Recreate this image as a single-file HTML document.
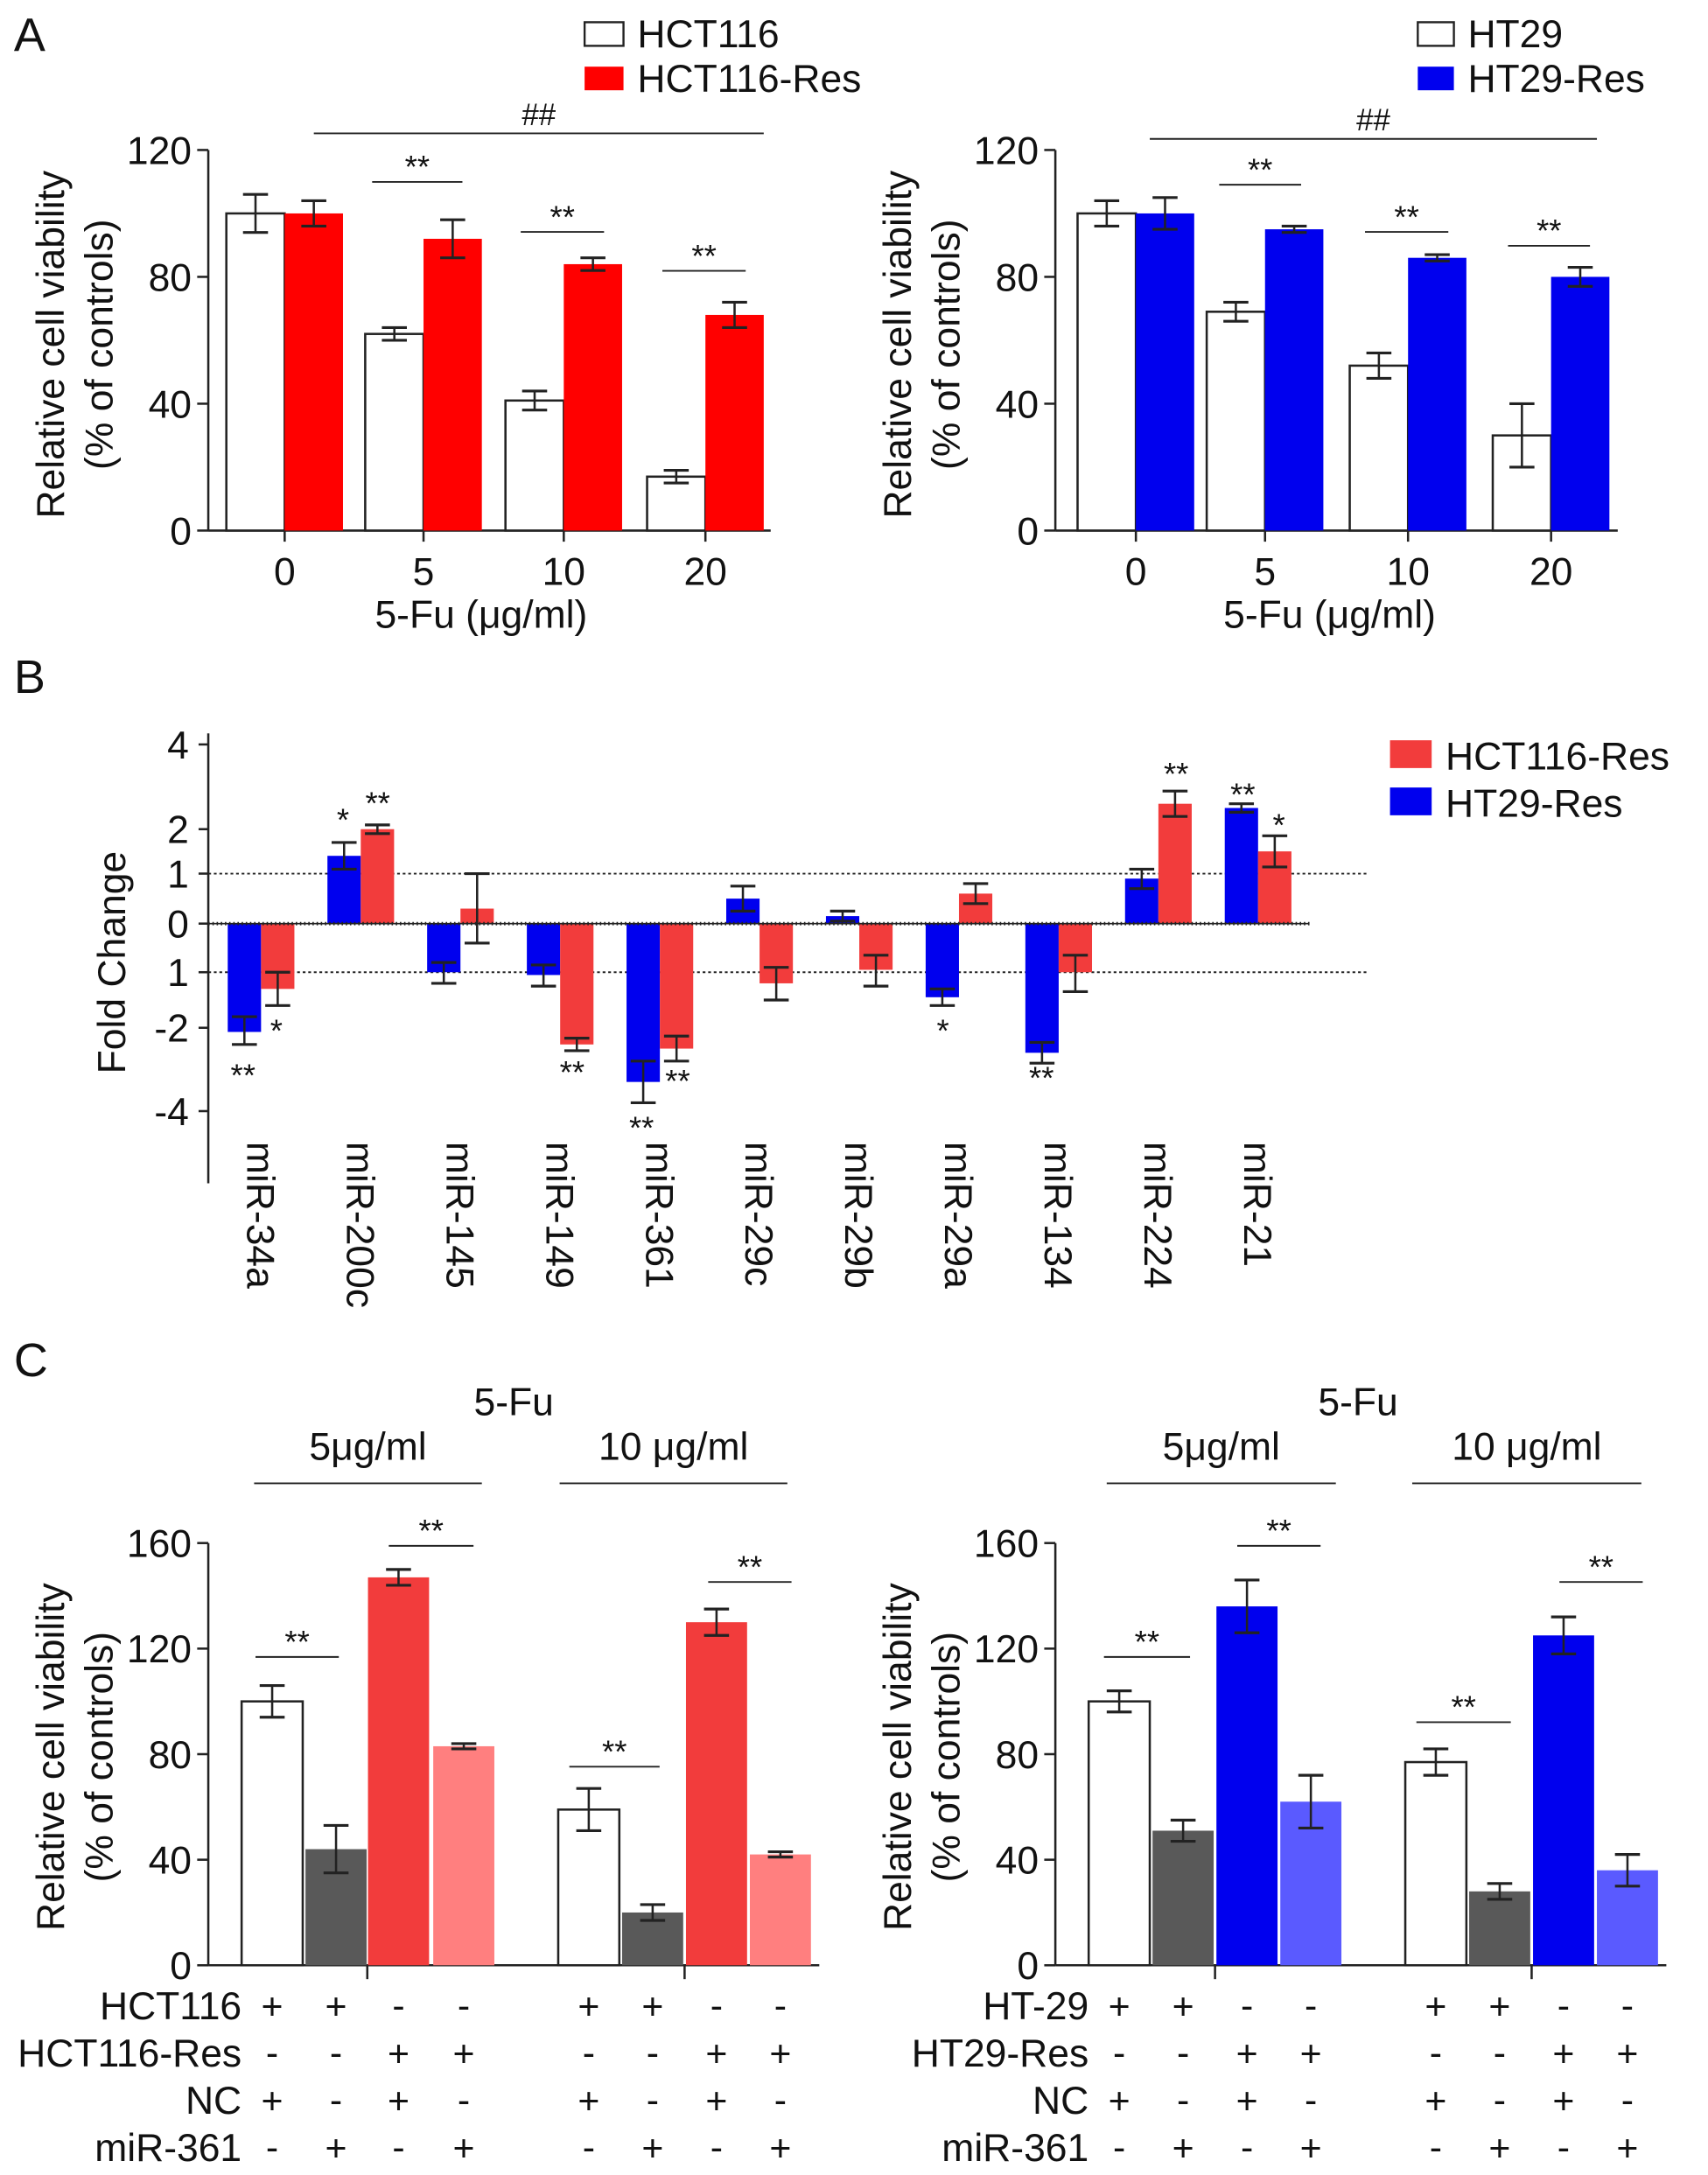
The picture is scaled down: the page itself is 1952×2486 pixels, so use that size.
<!DOCTYPE html>
<html><head><meta charset="utf-8"><style>
html,body{margin:0;padding:0;background:#fff}
svg{display:block}
text{font-family:"Liberation Sans",sans-serif;fill:#111}
</style></head><body>
<svg id="fig" xmlns="http://www.w3.org/2000/svg" width="1952" height="2486" viewBox="0 0 1230 1566" preserveAspectRatio="none">
<g id="root"></g>
</svg>
<script>
// ---------- Panel A data ----------
const aDoses = ['0','5','10','20'];
const aHctVals = [100, 62, 41, 17];
const aHctErr = [6, 2, 3, 2];
const aHctResVals = [100, 92, 84, 68];
const aHctResErr = [4, 6, 2, 4];
const aHtVals = [100, 69, 52, 30];
const aHtErr = [4, 3, 4, 10];
const aHtResVals = [100, 95, 86, 80];
const aHtResErr = [5, 1, 1, 3];
const aTicks = [0, 40, 80, 120];
// ---------- Panel B data ----------
const bCats = ['miR-34a','miR-200c','miR-145','miR-149','miR-361','miR-29c','miR-29b','miR-29a','miR-134','miR-224','miR-21'];
const bHtRes = [-2.1, 1.4, -1.0, -1.05, -3.3, 0.5, 0.15, -1.45, -2.6, 0.9, 2.5];
const bHtResErr = [0.3, 0.3, 0.2, 0.2, 0.5, 0.25, 0.1, 0.15, 0.25, 0.2, 0.1];
const bHctRes = [-1.3, 2.0, 0.3, -2.4, -2.5, -1.2, -0.95, 0.6, -1.0, 2.6, 1.5];
const bHctResErr = [0.3, 0.1, 0.7, 0.15, 0.3, 0.3, 0.3, 0.2, 0.35, 0.3, 0.35];
const bTickVals = [-4, -2, -1, 0, 1, 2, 4];
const bTickLabels = ['-4','-2','1','0','1','2','4'];
// ---------- Panel C data ----------
const cHctVals = [100, 44, 147, 83, 59, 20, 130, 42];
const cHctErr = [6, 9, 3, 1, 8, 3, 5, 1];
const cHtVals = [100, 51, 136, 62, 77, 28, 125, 36];
const cHtErr = [4, 4, 10, 10, 5, 3, 7, 6];
const cTicks = [0, 40, 80, 120, 160];
const cRowsHct = ['HCT116','HCT116-Res','NC','miR-361'];
const cRowsHt = ['HT-29','HT29-Res','NC','miR-361'];
const cSigns = [['+','+','-','-','+','+','-','-'],['-','-','+','+','-','-','+','+'],['+','-','+','-','+','-','+','-'],['-','+','-','+','-','+','-','+']];

const NS='http://www.w3.org/2000/svg';
const root=document.getElementById('root');
function el(tag, attrs, parent, txt){
  const e=document.createElementNS(NS,tag);
  for(const k in attrs) e.setAttribute(k,attrs[k]);
  if(txt!==undefined) e.textContent=txt;
  (parent||root).appendChild(e); return e;
}
function line(x1,y1,x2,y2,parent,w,dash){
  const l=el('line',{x1,y1,x2,y2,stroke:'#222','stroke-width':w||1.5},parent);
  if(dash) l.setAttribute('stroke-dasharray',dash);
  return l;
}
function text(x,y,s,size,anchor,parent){
  return el('text',{x,y,'font-size':size,'text-anchor':anchor||'middle'},parent,s);
}
function errbar(cx,yTop,yBot,parent){
  const g=el('g',{},parent);
  
  
  line(cx,yTop,cx,yBot,g,1.6);
  line(cx-9,yTop,cx+9,yTop,g,2);
  line(cx-9,yBot,cx+9,yBot,g,2);
}
const TICK=28, TITLE=28, STAR=23;

// Panel letters
for (const [s,x,y] of [['A',10,37],['B',10,499],['C',10,991]]){
  const t=text(x,y,s,34,'start');
  
  
}

// ---------- Panel A ----------
function panelA(ox, centers, axEnd, v1, e1, v2, e2, col, sigs, hash, name){
  const g=el('g',{});
  
  
  const y0=382, yTop=108;
  const ys=v=>y0-(v/120)*(y0-yTop);
  line(ox,yTop,ox,y0,g,1.6);
  line(ox,y0,axEnd,y0,g,1.6);
  aTicks.forEach(t=>{line(ox-8,ys(t),ox,ys(t),g,1.6);
    const tl=text(ox-12,ys(t)+10,String(t),TICK,'end',g);
    
    });
  aDoses.forEach((d,i)=>{
    const c=centers[i];
    line(c,y0,c,y0+8,g,1.6);
    const tl=text(c,y0+39,d,TICK,'middle',g);
    
    
    const w=42;
    const b1=el('rect',{x:c-w,y:ys(v1[i]),width:w,height:y0-ys(v1[i]),fill:'#fff',stroke:'#222','stroke-width':1.6},g);
    
    
    const b2=el('rect',{x:c,y:ys(v2[i]),width:w,height:y0-ys(v2[i]),fill:col},g);
    
    
    errbar(c-w/2,ys(v1[i]+e1[i]),ys(v1[i]-e1[i]),g);
    errbar(c+w/2,ys(v2[i]+e2[i]),ys(v2[i]-e2[i]),g);
  });
  sigs.forEach(s=>{line(s[0],s[2],s[1],s[2],g,1.2);
    const t=text((s[0]+s[1])/2,s[2]-3,'**',STAR,'middle',g);
    
    });
  line(hash[0],hash[2],hash[1],hash[2],g,1.2);
  const h=text((hash[0]+hash[1])/2,hash[2]-6,'##',22,'middle',g);
  
  
  const yt=el('text',{transform:`translate(${ox-104},248) rotate(-90)`,'font-size':TITLE,'text-anchor':'middle'},g,'Relative cell viability');
  
  
  const yt2=el('text',{transform:`translate(${ox-69},248) rotate(-90)`,'font-size':TITLE,'text-anchor':'middle'},g,'(% of controls)');
  
  
  const xt=text((centers[0]+centers[3])/2-10,452,'5-Fu (μg/ml)',TITLE,'middle',g);
  
  
  return g;
}
panelA(150,[205,305,406,508],555,aHctVals,aHctErr,aHctResVals,aHctResErr,'#ff0000',
  [[268,333,131],[375,435,167],[477,537,195]],[226,550,96],'chart-a-hct116');
panelA(760,[818,911,1014,1117],1165,aHtVals,aHtErr,aHtResVals,aHtResErr,'#0000ee',
  [[878,937,133],[983,1043,167],[1086,1145,177]],[828,1150,100],'chart-a-ht29');

function legend(x,y,w,h,fill,stroke,label,name,size){
  const g=el('g',{});
  
  
  el('rect',{x,y,width:w,height:h,fill,stroke:stroke||'none','stroke-width':1.5},g);
  text(x+w+10,y+h+1,label,size||28,'start',g);
}
legend(421,16,28,17,'#fff','#222','HCT116','legend-hct116');
legend(421,48,28,17,'#ff0000',null,'HCT116-Res','legend-hct116-res');
legend(1021,16,26,17,'#fff','#222','HT29','legend-ht29');
legend(1021,48,26,17,'#0000ee',null,'HT29-Res','legend-ht29-res');

// ---------- Panel B ----------
(function(){
  const g=el('g',{});
  
  
  const tv=[-4,-2,-1,0,1,2,4], tp=[800,740,700,665,629,597,536];
  const ys=v=>{ if(v<=tv[0]) return tp[0]+(v-tv[0])*(tp[0]-tp[1])/(tv[1]-tv[0]);
    for(let i=0;i<tv.length-1;i++){ if(v<=tv[i+1]) return tp[i]+(v-tv[i])/(tv[i+1]-tv[i])*(tp[i+1]-tp[i]); }
    return tp[6]; };
  const x0=150;
  line(x0,528,x0,852,g,1.6);
  bTickVals.forEach((t,i)=>{line(x0-7,ys(t),x0,ys(t),g,1.6);
    const tl=text(x0-14,ys(t)+10,bTickLabels[i],TICK,'end',g);
    
    });
  line(x0,ys(1),985,ys(1),g,1.2,'2,2');
  line(x0,ys(-1),985,ys(-1),g,1.2,'2,2');
  const step=71.8, c0=188, w=24;
  bCats.forEach((c,i)=>{
    const cx=c0+i*step;
    const bb=el('rect',{x:cx-w,y:Math.min(ys(0),ys(bHtRes[i])),width:w,height:Math.abs(ys(bHtRes[i])-ys(0)),fill:'#0000ee'},g);
    
    
    const br=el('rect',{x:cx,y:Math.min(ys(0),ys(bHctRes[i])),width:w,height:Math.abs(ys(bHctRes[i])-ys(0)),fill:'#f23c3c'},g);
    
    
    errbar(cx-w/2,ys(bHtRes[i]+bHtResErr[i]),ys(bHtRes[i]-bHtResErr[i]),g);
    errbar(cx+w/2,ys(bHctRes[i]+bHctResErr[i]),ys(bHctRes[i]-bHctResErr[i]),g);
    const lb=el('text',{transform:`translate(${cx-10},822) rotate(90)`,'font-size':28,'text-anchor':'start'},g,c);
    
    
  });
  line(x0,ys(0),943,ys(0),g,2.5,'1,2');
  line(x0,ys(0),943,ys(0),g,1);
  const stars=[['**',175,782],['*',199,750],['*',247,598],['**',272,586],['**',412,780],['**',462,820],['**',488,786],['*',679,750],['**',750,784],['**',847,565],['**',895,580],['*',921,602]];
  stars.forEach(s=>{const t=text(s[1],s[2],s[0],STAR,'middle',g);
    
    });
  const yt=el('text',{transform:'translate(90,693) rotate(-90)','font-size':TITLE,'text-anchor':'middle'},g,'Fold Change');
  
  
})();
legend(1001,533,30,20,'#f23c3c',null,'HCT116-Res','legend-b-hct116-res');
legend(1001,567,30,20,'#0000ee',null,'HT29-Res','legend-b-ht29-res');

// ---------- Panel C ----------
function panelC(ox, cols, vals, errs, colors, rows, sigs, tops, name){
  const g=el('g',{});
  
  
  const y0=1415, yT=1111;
  const ys=v=>y0-(v/160)*(y0-yT);
  line(ox,yT,ox,y0,g,1.6);
  line(ox,y0,ox+440,y0,g,1.6);
  cTicks.forEach(t=>{line(ox-8,ys(t),ox,ys(t),g,1.6);
    const tl=text(ox-12,ys(t)+10,String(t),TICK,'end',g);
    
    });
  line((cols[1]+cols[2])/2,y0,(cols[1]+cols[2])/2,y0+10,g,1.6);
  line((cols[5]+cols[6])/2,y0,(cols[5]+cols[6])/2,y0+10,g,1.6);
  const w=44;
  vals.forEach((v,i)=>{
    const c=cols[i];
    const r=el('rect',{x:c-w/2,y:ys(v),width:w,height:y0-ys(v),fill:colors[i%4]},g);
    if(i%4===0){r.setAttribute('stroke','#222');r.setAttribute('stroke-width','1.6');}
    
    
    errbar(c,ys(v+errs[i]),ys(v-errs[i]),g);
  });
  sigs.forEach(s=>{line(s[0],s[2],s[1],s[2],g,1.2);
    const t=text((s[0]+s[1])/2,s[2]-3,'**',STAR,'middle',g);
    
    });
  const ft=text(tops[0],1019,'5-Fu',TITLE,'middle',g);
  
  
  [[tops[1],tops[2],'5μg/ml'],[tops[3],tops[4],'10 μg/ml']].forEach(d=>{
    line(d[0],1068,d[1],1068,g,1.2);
    const t=text((d[0]+d[1])/2,1051,d[2],TITLE,'middle',g);
    
    
  });
  const ry=[1454,1488,1522,1556];
  rows.forEach((r,ri)=>{
    const t=text(cols[0]-22,ry[ri],r,28,'end',g);
    
    
    cSigns[ri].forEach((s,ci)=>{text(cols[ci],ry[ri]-(s==='-'?1:0),s,27,'middle',g);});
  });
  const yt=el('text',{transform:`translate(${ox-104},1265) rotate(-90)`,'font-size':TITLE,'text-anchor':'middle'},g,'Relative cell viability');
  
  
  const yt2=el('text',{transform:`translate(${ox-69},1265) rotate(-90)`,'font-size':TITLE,'text-anchor':'middle'},g,'(% of controls)');
  
  
}
panelC(150,[196,242,287,334,424,470,516,562],cHctVals,cHctErr,['#fff','#595959','#f23c3c','#ff7f7f'],cRowsHct,
  [[184,244,1193],[280,341,1113],[410,475,1272],[510,570,1139]],[370,183,347,403,567],'chart-c-hct116');
panelC(760,[806,852,898,944,1034,1080,1126,1172],cHtVals,cHtErr,['#fff','#595959','#0000ee','#5a5aff'],cRowsHt,
  [[795,857,1193],[891,951,1113],[1020,1088,1240],[1123,1183,1139]],[978,797,962,1017,1182],'chart-c-ht29');
</script>
</body></html>
